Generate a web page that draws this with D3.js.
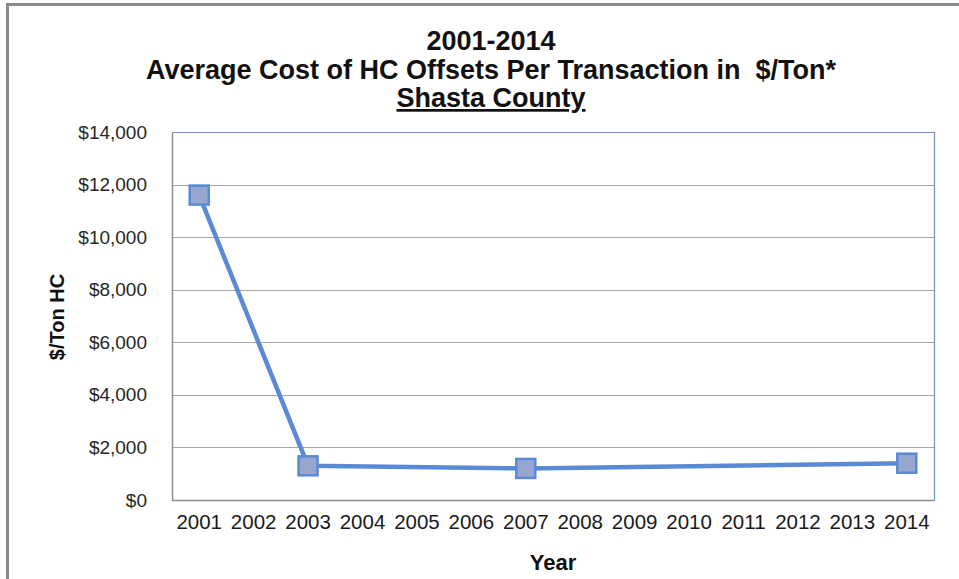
<html>
<head>
<meta charset="utf-8">
<title>Average Cost of HC Offsets - Shasta County</title>
<script src="https://cdn.jsdelivr.net/npm/d3@7"></script>
<style>
body { margin: 0; background: #fff; }
svg { display: block; font-family: "Liberation Sans", Arial, sans-serif; }
</style>
</head>
<body>
<div id="chart"></div>
<script>
// axis categories (every year shown on the axis)
var years = [2001, 2002, 2003, 2004, 2005, 2006, 2007, 2008, 2009, 2010, 2011, 2012, 2013, 2014];
// years that actually have a transaction, and the cost for each
var costYears = [2001, 2003, 2007, 2014];
var costValues = [11600, 1300, 1200, 1400];
var yTicks = [0, 2000, 4000, 6000, 8000, 10000, 12000, 14000];
var titleLines = ["2001-2014", "Average Cost of HC Offsets Per Transaction in \u00a0$/Ton*", "Shasta County"];

var width = 959, height = 579;
var m = {left: 172, right: 25, top: 132, bottom: 79};

var svg = d3.select("#chart").append("svg")
  .attr("width", width)
  .attr("height", height);

// outer chart frame, runs off the right and bottom edge
svg.append("rect")
  .attr("x", 7.5).attr("y", 4.5)
  .attr("width", width + 20).attr("height", height + 20)
  .attr("fill", "none")
  .attr("stroke", "#8a8a8a")
  .attr("stroke-width", 3);

var x = d3.scaleBand()
  .domain(years)
  .range([m.left, width - m.right]);

var y = d3.scaleLinear()
  .domain([0, 14000])
  .range([height - m.bottom, m.top]);

// gridlines
svg.append("g")
  .selectAll("line")
  .data(yTicks.slice(1, -1))
  .enter().append("line")
  .attr("x1", m.left).attr("x2", width - m.right)
  .attr("y1", function(d){ return Math.round(y(d)) + 0.5; })
  .attr("y2", function(d){ return Math.round(y(d)) + 0.5; })
  .attr("stroke", "#a6a6a6")
  .attr("stroke-width", 1.2);

// plot area border: top/right blue, left/bottom grey
var x0 = m.left + 0.5, x1 = width - m.right + 0.5, y0 = m.top + 0.5, y1 = height - m.bottom + 0.5;
svg.append("path").attr("d", "M" + x0 + "," + y0 + "H" + x1 + "V" + y1)
  .attr("fill", "none").attr("stroke", "#6f94c8").attr("stroke-width", 1.2);
svg.append("path").attr("d", "M" + x0 + "," + y0 + "V" + y1 + "H" + x1)
  .attr("fill", "none").attr("stroke", "#8c8c8c").attr("stroke-width", 1.5);

// y axis labels
var fmt = d3.format("$,.0f");
var yAxis = d3.axisLeft(y).tickValues(yTicks).tickFormat(fmt).tickSize(0).tickPadding(25);
var gy = svg.append("g").attr("transform", "translate(" + m.left + ",0)").call(yAxis);
gy.select(".domain").remove();
gy.selectAll("text")
  .attr("font-family", "'Liberation Sans', Arial, sans-serif")
  .attr("font-size", 19)
  .attr("fill", "#262626");

// x axis labels
var xAxis = d3.axisBottom(x).tickSize(0).tickPadding(14);
var gx = svg.append("g").attr("transform", "translate(0," + (height - m.bottom) + ")").call(xAxis);
gx.select(".domain").remove();
gx.selectAll("text")
  .attr("font-family", "'Liberation Sans', Arial, sans-serif")
  .attr("font-size", 20.5)
  .attr("fill", "#1a1a1a");

// series
var pts = costYears.map(function(d, i){ return {year: d, value: costValues[i]}; });
var cx = function(d){ return x(d.year) + x.bandwidth() / 2; };

svg.append("path")
  .datum(pts)
  .attr("fill", "none")
  .attr("stroke", "#5a8ad6")
  .attr("stroke-width", 4.5)
  .attr("stroke-linejoin", "round")
  .attr("d", d3.line().x(cx).y(function(d){ return y(d.value); }));

var ms = 19;
svg.append("g")
  .selectAll("rect")
  .data(pts)
  .enter().append("rect")
  .attr("x", function(d){ return cx(d) - ms / 2; })
  .attr("y", function(d){ return y(d.value) - ms / 2; })
  .attr("width", ms).attr("height", ms)
  .attr("fill", "#97a6cf")
  .attr("stroke", "#5a8ad6")
  .attr("stroke-width", 2.5);

// title
var title = svg.append("text")
  .attr("text-anchor", "middle")
  .attr("font-weight", "bold")
  .attr("font-size", 27)
  .attr("fill", "#111");
var tb = [50, 79, 107];
titleLines.forEach(function(t, i){
  title.append("tspan")
    .attr("x", 491)
    .attr("y", tb[i])
    .attr("text-decoration", i == 2 ? "underline" : null)
    .text(t);
});

// axis titles
svg.append("text")
  .attr("x", (m.left + width - m.right) / 2)
  .attr("y", 570)
  .attr("text-anchor", "middle")
  .attr("font-weight", "bold")
  .attr("font-size", 22)
  .attr("fill", "#111")
  .text("Year");

svg.append("text")
  .attr("transform", "translate(64,317) rotate(-90)")
  .attr("text-anchor", "middle")
  .attr("font-weight", "bold")
  .attr("font-size", 20)
  .attr("fill", "#111")
  .text("$/Ton HC");
</script>
</body>
</html>
